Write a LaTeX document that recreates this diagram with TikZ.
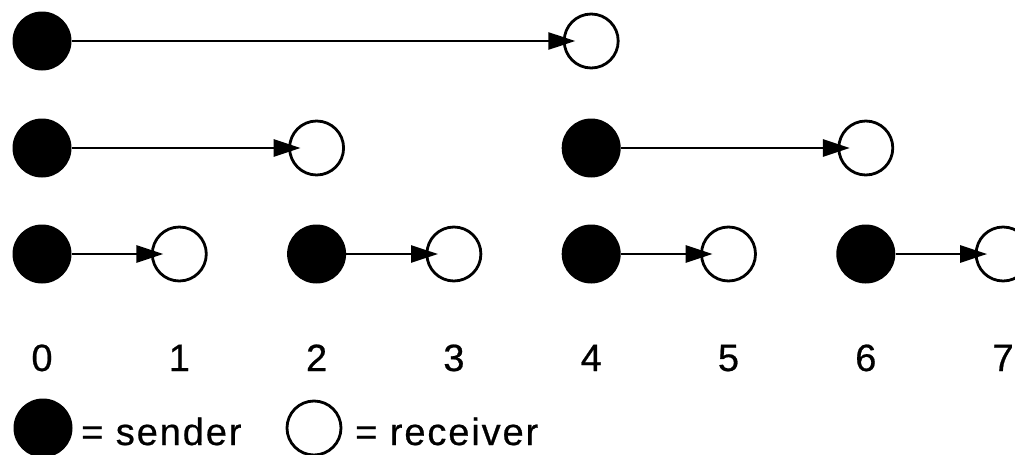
\documentclass[tikz,border=0pt]{standalone}
\usepackage{fontspec}
\setmainfont[LetterSpace=5, FakeBold=0.6]{Liberation Sans}
\usetikzlibrary{arrows.meta}

\tikzset{
  sender/.style={circle, fill=black, inner sep=0pt, minimum size=59pt},
  receiver/.style={circle, draw=black, fill=white, line width=2.8pt, inner sep=0pt, minimum size=54pt},
  msg/.style={line width=2.7pt,
    -{Triangle[length=27pt,width=17pt]},
    shorten >=-12.5pt},
  lbl/.style={inner sep=0pt, font=\fontsize{38}{40}\selectfont}
}

\begin{document}
\begin{tikzpicture}[x=1pt, y=-1pt]
  \useasboundingbox (0,0) rectangle (1015,455);

  % row 1: one message spanning four processes
  \node[sender]   (a0) at (42,41) {};
  \node[receiver] (a4) at (591.2,41) {};

  % row 2: two messages spanning two processes each
  \node[sender]   (b0) at (42,148) {};
  \node[receiver] (b2) at (316.6,148) {};
  \node[sender]   (b4) at (591.2,148) {};
  \node[receiver] (b6) at (865.8,148) {};

  % row 3: four neighbour messages
  \node[sender]   (c0) at (42,254) {};
  \node[receiver] (c1) at (179.3,254) {};
  \node[sender]   (c2) at (316.6,254) {};
  \node[receiver] (c3) at (453.9,254) {};
  \node[sender]   (c4) at (591.2,254) {};
  \node[receiver] (c5) at (728.5,254) {};
  \node[sender]   (c6) at (865.8,254) {};
  \node[receiver] (c7) at (1003.1,254) {};

  % messages
  \draw[msg] (a0) -- (a4);
  \draw[msg] (b0) -- (b2);
  \draw[msg] (b4) -- (b6);
  \draw[msg] (c0) -- (c1);
  \draw[msg] (c2) -- (c3);
  \draw[msg] (c4) -- (c5);
  \draw[msg] (c6) -- (c7);

  % process numbers
  \node[lbl, anchor=base] (n0) at (42,371) {0};
  \node[lbl, anchor=base] (n1) at (179.3,371) {1};
  \node[lbl, anchor=base] (n2) at (316.6,371) {2};
  \node[lbl, anchor=base] (n3) at (453.9,371) {3};
  \node[lbl, anchor=base] (n4) at (591.2,371) {4};
  \node[lbl, anchor=base] (n5) at (728.5,371) {5};
  \node[lbl, anchor=base] (n6) at (865.8,371) {6};
  \node[lbl, anchor=base] (n7) at (1003.1,371) {7};

  % legend
  \node[sender]   (ls) at (43,428) {};
  \node[lbl, anchor=base west] (lst) at (81,445) {= sender};
  \node[receiver] (lr) at (314,428) {};
  \node[lbl, anchor=base west] (lrt) at (355,445) {= receiver};
\end{tikzpicture}
\end{document}
